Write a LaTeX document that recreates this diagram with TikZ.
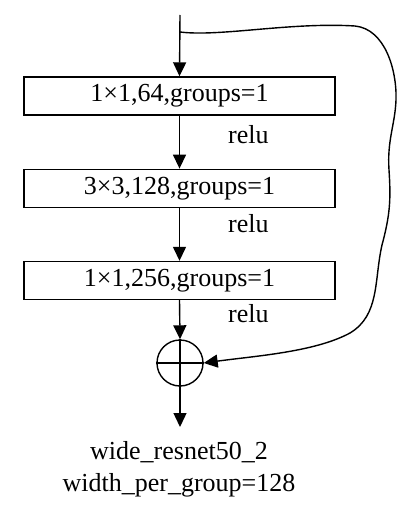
\documentclass[tikz,border=0pt]{standalone}
\usepackage{fontspec}
\setmainfont{Liberation Serif}
\usetikzlibrary{arrows.meta}
\begin{document}
\begin{tikzpicture}[x=1pt,y=-1pt,
  every node/.style={font=\fontsize{26}{31}\selectfont},
  layerbox/.style={draw,line width=1.4pt,minimum width=311pt,minimum height=38pt,inner sep=0pt},
  sumnode/.style={draw,circle,line width=1.4pt,minimum size=46pt,inner sep=0pt},
  lbl/.style={anchor=base west,inner sep=0pt},
  outlbl/.style={anchor=base,inner sep=0pt},
  conn/.style={line width=1.4pt,-{Triangle[length=14pt,width=13pt]}},
  plain/.style={line width=1.4pt}]
\useasboundingbox (0,0) rectangle (409,511);
\coordinate (top) at (180,15);
\coordinate (split) at (180,32);
\node[layerbox] (b1) at (179.5,96) {1×1,64,groups=1};
\node[layerbox] (b2) at (179.5,188.3) {3×3,128,groups=1};
\node[layerbox] (b3) at (179.5,280.5) {1×1,256,groups=1};
\node[sumnode] (sum) at (180,363) {};
\coordinate (end) at (180,427);
\node[lbl] (r1) at (228,143.3) {relu};
\node[lbl] (r2) at (228,232.7) {relu};
\node[lbl] (r3) at (228,322.7) {relu};
\node[outlbl] (o1) at (179,459.3) {wide\_resnet50\_2};
\node[outlbl] (o2) at (179,491.5) {width\_per\_group=128};
\draw[conn] (top) -- (b1.north);
\draw[conn] (b1.south) -- (b2.north);
\draw[conn] (b2.south) -- (b3.north);
\draw[conn] (b3.south) -- (sum.north);
\draw[plain] (sum.north) -- (sum.south);
\draw[plain] (sum.west) -- (sum.east);
\draw[conn] (sum.south) -- (end);
\draw[conn] (split) .. controls (220,37) and (290,22) .. (355,26)
  .. controls (385,29) and (397,70) .. (396,100)
  .. controls (395,125) and (387,140) .. (389,170)
  .. controls (391,200) and (390,215) .. (382,245)
  .. controls (374,280) and (380,315) .. (350,333)
  .. controls (315,352) and (255,356) .. (sum.east);
\end{tikzpicture}
\end{document}
